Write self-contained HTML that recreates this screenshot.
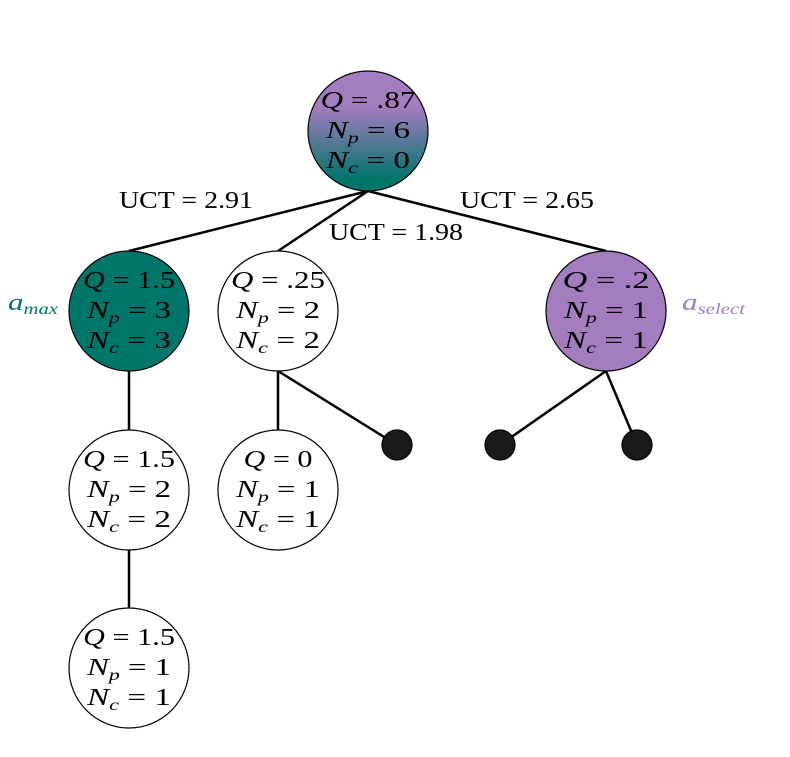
<!DOCTYPE html>
<html><head><style>
html,body{margin:0;padding:0;background:#fff;}
svg text{font-family:"Liberation Serif",serif;font-size:24px;}
.m{font-style:italic;}
</style></head><body>
<svg width="790" height="752" viewBox="0 0 790 752" xmlns="http://www.w3.org/2000/svg">
<defs>
<linearGradient id="g" x1="0" y1="0" x2="0" y2="1">
<stop offset="0.3" stop-color="#a47cc0"/>
<stop offset="0.9" stop-color="#00756a"/>
</linearGradient>
</defs>
<g stroke="#000" stroke-width="2.5" fill="none">
<line x1="368" y1="191" x2="129" y2="251"/>
<line x1="368" y1="191" x2="278" y2="251"/>
<line x1="368" y1="191" x2="606" y2="251"/>
<line x1="129" y1="371" x2="129" y2="430"/>
<line x1="129" y1="550" x2="129" y2="608"/>
<line x1="278" y1="371" x2="278" y2="430"/>
<line x1="278" y1="371" x2="397" y2="445"/>
<line x1="606" y1="371" x2="500" y2="445"/>
<line x1="606" y1="371" x2="637" y2="445"/>
</g>
<g stroke="#000" stroke-width="1.2">
<circle cx="368" cy="131" r="60" fill="url(#g)"/>
<circle cx="129" cy="311" r="60" fill="#00756a"/>
<circle cx="278" cy="311" r="60" fill="#fff"/>
<circle cx="606" cy="311" r="60" fill="#a47cc0"/>
<circle cx="129" cy="490" r="60" fill="#fff"/>
<circle cx="278" cy="490" r="60" fill="#fff"/>
<circle cx="129" cy="668" r="60" fill="#fff"/>
<circle cx="397" cy="445" r="15" fill="#1a1a1a"/>
<circle cx="500" cy="445" r="15" fill="#1a1a1a"/>
<circle cx="637" cy="445" r="15" fill="#1a1a1a"/>
</g>
<g text-anchor="middle">
<text x="368" y="108" textLength="95" lengthAdjust="spacingAndGlyphs"><tspan class="m">Q</tspan> = .87</text>
<text x="368" y="138" textLength="84" lengthAdjust="spacingAndGlyphs"><tspan class="m">N<tspan font-size="16" dy="5">p</tspan></tspan><tspan dy="-5"> = 6</tspan></text>
<text x="368" y="168" textLength="84" lengthAdjust="spacingAndGlyphs"><tspan class="m">N<tspan font-size="16" dy="5">c</tspan></tspan><tspan dy="-5"> = 0</tspan></text>

<text x="129" y="288" textLength="92" lengthAdjust="spacingAndGlyphs"><tspan class="m">Q</tspan> = 1.5</text>
<text x="129" y="318" textLength="84" lengthAdjust="spacingAndGlyphs"><tspan class="m">N<tspan font-size="16" dy="5">p</tspan></tspan><tspan dy="-5"> = 3</tspan></text>
<text x="129" y="348" textLength="84" lengthAdjust="spacingAndGlyphs"><tspan class="m">N<tspan font-size="16" dy="5">c</tspan></tspan><tspan dy="-5"> = 3</tspan></text>

<text x="278" y="288" textLength="94" lengthAdjust="spacingAndGlyphs"><tspan class="m">Q</tspan> = .25</text>
<text x="278" y="318" textLength="84" lengthAdjust="spacingAndGlyphs"><tspan class="m">N<tspan font-size="16" dy="5">p</tspan></tspan><tspan dy="-5"> = 2</tspan></text>
<text x="278" y="348" textLength="84" lengthAdjust="spacingAndGlyphs"><tspan class="m">N<tspan font-size="16" dy="5">c</tspan></tspan><tspan dy="-5"> = 2</tspan></text>

<text x="606" y="288" textLength="87" lengthAdjust="spacingAndGlyphs"><tspan class="m">Q</tspan> = .2</text>
<text x="606" y="318" textLength="84" lengthAdjust="spacingAndGlyphs"><tspan class="m">N<tspan font-size="16" dy="5">p</tspan></tspan><tspan dy="-5"> = 1</tspan></text>
<text x="606" y="348" textLength="84" lengthAdjust="spacingAndGlyphs"><tspan class="m">N<tspan font-size="16" dy="5">c</tspan></tspan><tspan dy="-5"> = 1</tspan></text>

<text x="129" y="467" textLength="92" lengthAdjust="spacingAndGlyphs"><tspan class="m">Q</tspan> = 1.5</text>
<text x="129" y="497" textLength="84" lengthAdjust="spacingAndGlyphs"><tspan class="m">N<tspan font-size="16" dy="5">p</tspan></tspan><tspan dy="-5"> = 2</tspan></text>
<text x="129" y="527" textLength="84" lengthAdjust="spacingAndGlyphs"><tspan class="m">N<tspan font-size="16" dy="5">c</tspan></tspan><tspan dy="-5"> = 2</tspan></text>

<text x="278" y="467" textLength="69" lengthAdjust="spacingAndGlyphs"><tspan class="m">Q</tspan> = 0</text>
<text x="278" y="497" textLength="84" lengthAdjust="spacingAndGlyphs"><tspan class="m">N<tspan font-size="16" dy="5">p</tspan></tspan><tspan dy="-5"> = 1</tspan></text>
<text x="278" y="527" textLength="84" lengthAdjust="spacingAndGlyphs"><tspan class="m">N<tspan font-size="16" dy="5">c</tspan></tspan><tspan dy="-5"> = 1</tspan></text>

<text x="129" y="645" textLength="92" lengthAdjust="spacingAndGlyphs"><tspan class="m">Q</tspan> = 1.5</text>
<text x="129" y="675" textLength="84" lengthAdjust="spacingAndGlyphs"><tspan class="m">N<tspan font-size="16" dy="5">p</tspan></tspan><tspan dy="-5"> = 1</tspan></text>
<text x="129" y="705" textLength="84" lengthAdjust="spacingAndGlyphs"><tspan class="m">N<tspan font-size="16" dy="5">c</tspan></tspan><tspan dy="-5"> = 1</tspan></text>

<text x="186" y="208" font-size="22" textLength="134" lengthAdjust="spacingAndGlyphs">UCT = 2.91</text>
<text x="396" y="240" font-size="22" textLength="134" lengthAdjust="spacingAndGlyphs">UCT = 1.98</text>
<text x="527" y="208" font-size="22" textLength="134" lengthAdjust="spacingAndGlyphs">UCT = 2.65</text>
</g>
<text x="8" y="310" fill="#00756a" class="m" font-size="22" textLength="50" lengthAdjust="spacingAndGlyphs">a<tspan font-size="16" dy="4">max</tspan></text>
<text x="682" y="310" fill="#a47cc0" class="m" font-size="22" textLength="63" lengthAdjust="spacingAndGlyphs">a<tspan font-size="16" dy="4">select</tspan></text>
</svg>
</body></html>
